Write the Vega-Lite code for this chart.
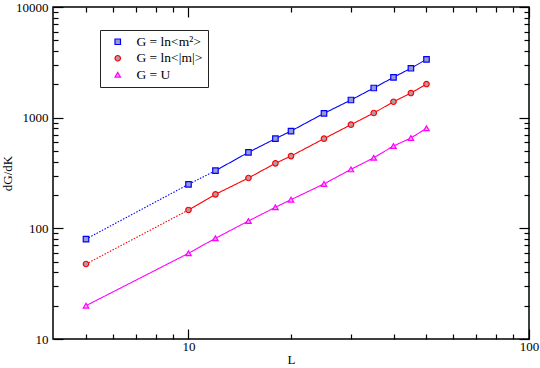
{
  "$schema": "https://vega.github.io/schema/vega-lite/v6.json",
  "width": 476,
  "height": 332,
  "autosize": {"type": "none"},
  "padding": {"left": 53, "top": 7, "right": 11, "bottom": 29},
  "background": "white",
  "config": {
    "view": {"stroke": "black", "strokeWidth": 1.5},
    "font": "Liberation Serif",
    "axis": {"domain": false, "grid": false, "tickColor": "black", "tickWidth": 1.2, "labelColor": "black", "labelFont": "Liberation Serif", "labelFontSize": 13, "titleFont": "Liberation Serif", "titleFontSize": 13, "titleFontWeight": "normal", "titleColor": "black", "labelFlush": false, "labelOverlap": false},
    "legend": {"orient": "none", "legendX": 47, "legendY": 23, "padding": 5, "symbolOffset": 6, "symbolSize": 30, "labelOffset": 12, "rowPadding": 1.5, "labelFontSize": 13.5, "labelFont": "Liberation Serif", "labelColor": "black", "strokeColor": "#222", "fillColor": "white", "symbolStrokeWidth": 1.2, "labelLimit": 300}
  },
  "datasets": {
    "pts": [
      {"s": "G = ln<m²>", "L": 5, "v": 80},
      {"s": "G = ln<m²>", "L": 10, "v": 250},
      {"s": "G = ln<m²>", "L": 12, "v": 332},
      {"s": "G = ln<m²>", "L": 15, "v": 486},
      {"s": "G = ln<m²>", "L": 18, "v": 646},
      {"s": "G = ln<m²>", "L": 20, "v": 757},
      {"s": "G = ln<m²>", "L": 25, "v": 1094},
      {"s": "G = ln<m²>", "L": 30, "v": 1444},
      {"s": "G = ln<m²>", "L": 35, "v": 1854},
      {"s": "G = ln<m²>", "L": 40, "v": 2316},
      {"s": "G = ln<m²>", "L": 45, "v": 2795},
      {"s": "G = ln<m²>", "L": 50, "v": 3368},
      {"s": "G = ln<|m|>", "L": 5, "v": 47.6},
      {"s": "G = ln<|m|>", "L": 10, "v": 146.5},
      {"s": "G = ln<|m|>", "L": 12, "v": 203},
      {"s": "G = ln<|m|>", "L": 15, "v": 285},
      {"s": "G = ln<|m|>", "L": 18, "v": 387},
      {"s": "G = ln<|m|>", "L": 20, "v": 450},
      {"s": "G = ln<|m|>", "L": 25, "v": 646},
      {"s": "G = ln<|m|>", "L": 30, "v": 864},
      {"s": "G = ln<|m|>", "L": 35, "v": 1102},
      {"s": "G = ln<|m|>", "L": 40, "v": 1393},
      {"s": "G = ln<|m|>", "L": 45, "v": 1670},
      {"s": "G = ln<|m|>", "L": 50, "v": 2014},
      {"s": "G = U", "L": 5, "v": 20},
      {"s": "G = U", "L": 10, "v": 59.5},
      {"s": "G = U", "L": 12, "v": 81.3},
      {"s": "G = U", "L": 15, "v": 116.5},
      {"s": "G = U", "L": 18, "v": 155},
      {"s": "G = U", "L": 20, "v": 181.5},
      {"s": "G = U", "L": 25, "v": 252},
      {"s": "G = U", "L": 30, "v": 341},
      {"s": "G = U", "L": 35, "v": 434},
      {"s": "G = U", "L": 40, "v": 555},
      {"s": "G = U", "L": 45, "v": 655},
      {"s": "G = U", "L": 50, "v": 802}
    ],
    "lines": [
      {"s": "G = ln<m²>", "seg": "dot", "L": 5, "v": 80},
      {"s": "G = ln<m²>", "seg": "dot", "L": 10, "v": 250},
      {"s": "G = ln<m²>", "seg": "dot", "L": 12, "v": 332},
      {"s": "G = ln<m²>", "seg": "solid", "L": 12, "v": 332},
      {"s": "G = ln<m²>", "seg": "solid", "L": 15, "v": 486},
      {"s": "G = ln<m²>", "seg": "solid", "L": 18, "v": 646},
      {"s": "G = ln<m²>", "seg": "solid", "L": 20, "v": 757},
      {"s": "G = ln<m²>", "seg": "solid", "L": 25, "v": 1094},
      {"s": "G = ln<m²>", "seg": "solid", "L": 30, "v": 1444},
      {"s": "G = ln<m²>", "seg": "solid", "L": 35, "v": 1854},
      {"s": "G = ln<m²>", "seg": "solid", "L": 40, "v": 2316},
      {"s": "G = ln<m²>", "seg": "solid", "L": 45, "v": 2795},
      {"s": "G = ln<m²>", "seg": "solid", "L": 50, "v": 3368},
      {"s": "G = ln<|m|>", "seg": "dot", "L": 5, "v": 47.6},
      {"s": "G = ln<|m|>", "seg": "dot", "L": 10, "v": 146.5},
      {"s": "G = ln<|m|>", "seg": "solid", "L": 10, "v": 146.5},
      {"s": "G = ln<|m|>", "seg": "solid", "L": 12, "v": 203},
      {"s": "G = ln<|m|>", "seg": "solid", "L": 15, "v": 285},
      {"s": "G = ln<|m|>", "seg": "solid", "L": 18, "v": 387},
      {"s": "G = ln<|m|>", "seg": "solid", "L": 20, "v": 450},
      {"s": "G = ln<|m|>", "seg": "solid", "L": 25, "v": 646},
      {"s": "G = ln<|m|>", "seg": "solid", "L": 30, "v": 864},
      {"s": "G = ln<|m|>", "seg": "solid", "L": 35, "v": 1102},
      {"s": "G = ln<|m|>", "seg": "solid", "L": 40, "v": 1393},
      {"s": "G = ln<|m|>", "seg": "solid", "L": 45, "v": 1670},
      {"s": "G = ln<|m|>", "seg": "solid", "L": 50, "v": 2014},
      {"s": "G = U", "seg": "solid", "L": 5, "v": 20},
      {"s": "G = U", "seg": "solid", "L": 10, "v": 59.5},
      {"s": "G = U", "seg": "solid", "L": 12, "v": 81.3},
      {"s": "G = U", "seg": "solid", "L": 15, "v": 116.5},
      {"s": "G = U", "seg": "solid", "L": 18, "v": 155},
      {"s": "G = U", "seg": "solid", "L": 20, "v": 181.5},
      {"s": "G = U", "seg": "solid", "L": 25, "v": 252},
      {"s": "G = U", "seg": "solid", "L": 30, "v": 341},
      {"s": "G = U", "seg": "solid", "L": 35, "v": 434},
      {"s": "G = U", "seg": "solid", "L": 40, "v": 555},
      {"s": "G = U", "seg": "solid", "L": 45, "v": 655},
      {"s": "G = U", "seg": "solid", "L": 50, "v": 802}
    ]
  },
  "resolve": {"axis": {"x": "independent", "y": "independent"}},
  "layer": [
    {
      "data": {"name": "lines"},
      "mark": {"type": "line", "strokeWidth": 1.1},
      "encoding": {
        "x": {"field": "L", "type": "quantitative", "scale": {"type": "log", "domain": [4, 100], "nice": false},
              "axis": {"orient": "bottom", "values": [10, 100], "format": "d", "offset": -10, "tickSize": 10, "labelPadding": 1, "title": "L", "titlePadding": 0}},
        "y": {"field": "v", "type": "quantitative", "scale": {"type": "log", "domain": [10, 10000], "nice": false},
              "axis": {"orient": "left", "values": [10, 100, 1000, 10000], "format": "d", "offset": -10, "tickSize": 10, "labelPadding": 5, "title": "dG/dK", "titlePadding": 1}},
        "color": {"field": "s", "type": "nominal", "legend": null,
                  "scale": {"domain": ["G = U", "G = ln<|m|>", "G = ln<m²>"], "range": ["#ff00ff", "#ff0000", "#0000ff"]}},
        "strokeDash": {"field": "seg", "type": "nominal", "legend": null,
                       "scale": {"domain": ["solid", "dot"], "range": [[1, 0], [1.5, 1.5]]}},
        "detail": {"field": "seg"}
      }
    },
    {
      "data": {"name": "pts"},
      "mark": {"type": "point", "strokeWidth": 1.2, "opacity": 1},
      "encoding": {
        "x": {"field": "L", "type": "quantitative", "axis": {"orient": "bottom", "values": [5, 6, 7, 8, 9, 20, 30, 40, 50, 60, 70, 80, 90], "labels": false, "offset": -5, "tickSize": 5, "title": null}},
        "y": {"field": "v", "type": "quantitative", "axis": {"orient": "left", "values": [20, 30, 40, 50, 60, 70, 80, 90, 200, 300, 400, 500, 600, 700, 800, 900, 2000, 3000, 4000, 5000, 6000, 7000, 8000, 9000], "labels": false, "offset": -5, "tickSize": 5, "title": null}},
        "stroke": {"field": "s", "type": "nominal", "legend": {"title": null},
                   "scale": {"domain": ["G = ln<m²>", "G = ln<|m|>", "G = U"], "range": ["#0000ff", "#ff0000", "#ff00ff"]}},
        "fill": {"field": "s", "type": "nominal", "legend": {"title": null},
                 "scale": {"domain": ["G = ln<m²>", "G = ln<|m|>", "G = U"], "range": ["#9a9ad0", "#b09aa8", "#f0b0f0"]}},
        "shape": {"field": "s", "type": "nominal", "legend": {"title": null},
                  "scale": {"domain": ["G = ln<m²>", "G = ln<|m|>", "G = U"], "range": ["square", "circle", "triangle-up"]}},
        "size": {"value": 30}
      }
    },
    {
      "data": {"name": "pts"},
      "mark": {"type": "point", "opacity": 0},
      "encoding": {
        "x": {"field": "L", "type": "quantitative", "axis": {"orient": "top", "values": [10, 100], "labels": false, "offset": -10, "tickSize": 10, "title": null}},
        "y": {"field": "v", "type": "quantitative", "axis": {"orient": "right", "values": [10, 100, 1000, 10000], "labels": false, "offset": -10, "tickSize": 10, "title": null}}
      }
    },
    {
      "data": {"name": "pts"},
      "mark": {"type": "point", "opacity": 0},
      "encoding": {
        "x": {"field": "L", "type": "quantitative", "axis": {"orient": "top", "values": [5, 6, 7, 8, 9, 20, 30, 40, 50, 60, 70, 80, 90], "labels": false, "offset": -5, "tickSize": 5, "title": null}},
        "y": {"field": "v", "type": "quantitative", "axis": {"orient": "right", "values": [20, 30, 40, 50, 60, 70, 80, 90, 200, 300, 400, 500, 600, 700, 800, 900, 2000, 3000, 4000, 5000, 6000, 7000, 8000, 9000], "labels": false, "offset": -5, "tickSize": 5, "title": null}}
      }
    }
  ]
}
